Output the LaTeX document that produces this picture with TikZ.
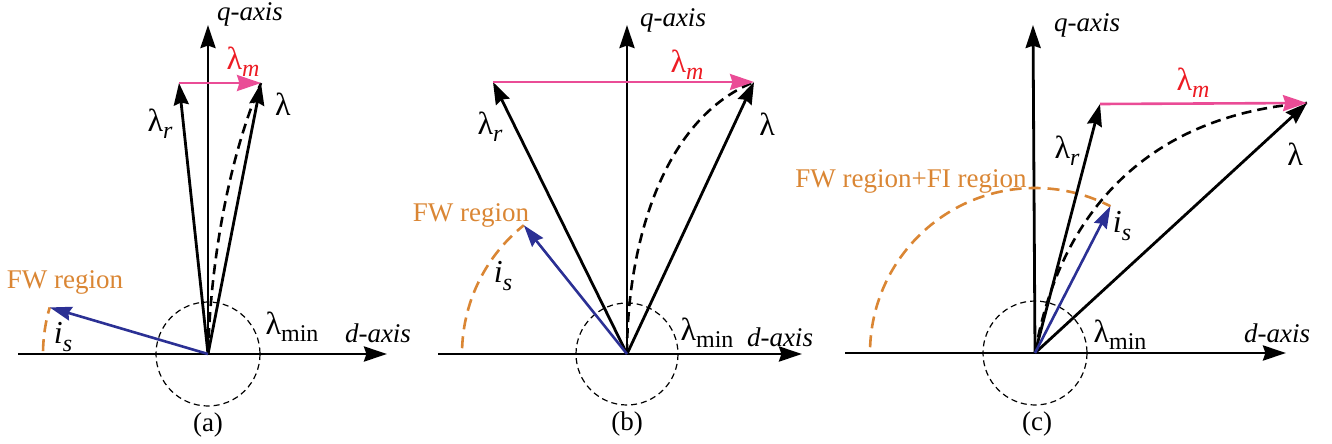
\documentclass[tikz,border=0pt]{standalone}
\usepackage{fontspec}
\setmainfont{Liberation Serif}
\newfontfamily\tnr{Liberation Serif}
\usetikzlibrary{arrows.meta,calc}
\definecolor{pinkm}{RGB}{234,76,150}
\definecolor{redm}{RGB}{237,28,36}
\definecolor{orng}{RGB}{218,134,52}
\definecolor{bluei}{RGB}{43,48,148}
\newcommand{\mysub}[1]{\raisebox{-0.5ex}{\fontsize{12}{12}\selectfont #1}}
\begin{document}
\begin{tikzpicture}[x=0.5pt,y=-0.5pt,
  axisarrow/.style={line width=1.4pt,-{Stealth[length=11.5pt,width=7.5pt,inset=1.2pt]}},
  vecarrow/.style={line width=1.4pt,-{Stealth[length=11pt,width=7.5pt,inset=1.2pt]}},
  pinkarrow/.style={pinkm,line width=1.3pt,-{Stealth[length=12pt,width=8pt,inset=1.2pt]}},
  bluearrow/.style={bluei,line width=1.3pt,-{Stealth[length=11pt,width=7pt,inset=1.2pt]}},
  dashcurve/.style={line width=1.3pt,dash pattern=on 5pt off 3pt},
  mincircle/.style={line width=0.6pt,dash pattern=on 3pt off 2pt},
  fwarc/.style={orng,line width=1.3pt,dash pattern=on 6pt off 3.5pt},
  lam/.style={font=\tnr\fontsize{16}{16}\selectfont,inner sep=0pt},
  axlabel/.style={font=\tnr\fontsize{13.5}{13.5}\selectfont\itshape,inner sep=0pt},
  fwlabel/.style={orng,font=\tnr\fontsize{13.5}{13.5}\selectfont,inner sep=0pt},
  caption/.style={font=\tnr\fontsize{13.5}{13.5}\selectfont,inner sep=0pt}]
\path[use as bounding box] (0,0) rectangle (1332,444);

% ---------------- (a) ----------------
\coordinate (Oa) at (208,354);
\coordinate (Da0) at (18,354);
\coordinate (Da1) at (387,354);
\coordinate (Qa1) at (208,25);
\coordinate (Ra) at (179,83);
\coordinate (La) at (261,83);
\coordinate (Ia) at ($(Oa)+(196.4:165)$);
\draw[mincircle] (Oa) circle[radius=52];
\draw[axisarrow] (Da0) -- (Da1);
\draw[axisarrow] (Oa) -- (Qa1);
\draw[fwarc] ($(Oa)+(181:165)$) arc[start angle=181,end angle=196.4,radius=165];
\draw[dashcurve] (Oa) .. controls (211,250) and (232,150) .. (La);
\draw[vecarrow] (Oa) -- (Ra);
\draw[vecarrow] (Oa) -- (La);
\draw[pinkarrow] (Ra) -- (La);
\draw[bluearrow] (Oa) -- (Ia);
\node[axlabel] (qa) at (250,14) {q-axis};
\node[axlabel] (da) at (378,333) {d-axis};
\node[lam,redm] (lma) at (243,62) {λ\mysub{\itshape m}};
\node[lam] (lra) at (160,124) {λ\mysub{\itshape r}};
\node[lam] (la) at (283,104) {λ};
\node[lam] (lmina) at (292,327) {λ\mysub{min}};
\node[lam] (isa) at (63,337) {\itshape i\mysub{s}};
\node[fwlabel] (fwa) at (65,282) {FW region};
\node[caption] (capa) at (208,425) {(a)};

% ---------------- (b) ----------------
\coordinate (Ob) at (627,354);
\coordinate (Db0) at (438,354);
\coordinate (Db1) at (802,354);
\coordinate (Qb1) at (627,25);
\coordinate (Rb) at (493,82);
\coordinate (Lb) at (754,82);
\coordinate (Ib) at ($(Ob)+(231.3:165)$);
\draw[mincircle] (Ob) circle[radius=51];
\draw[axisarrow] (Db0) -- (Db1);
\draw[axisarrow] (Ob) -- (Qb1);
\draw[fwarc] ($(Ob)+(182:165)$) arc[start angle=182,end angle=231.3,radius=165];
\draw[dashcurve] (Ob) .. controls (627,250) and (660,120) .. (Lb);
\draw[vecarrow] (Ob) -- (Rb);
\draw[vecarrow] (Ob) -- (Lb);
\draw[pinkarrow] (Rb) -- (Lb);
\draw[bluearrow] (Ob) -- (Ib);
\node[axlabel] (qb) at (673,20) {q-axis};
\node[axlabel] (db) at (780,337) {d-axis};
\node[lam,redm] (lmb) at (687,65) {λ\mysub{\itshape m}};
\node[lam] (lrb) at (490,127) {λ\mysub{\itshape r}};
\node[lam] (lb) at (767,124) {λ};
\node[lam] (lminb) at (707,333) {λ\mysub{min}};
\node[lam] (isb) at (503,276) {\itshape i\mysub{s}};
\node[fwlabel] (fwb) at (471,215) {FW region};
\node[caption] (capb) at (627,424) {(b)};

% ---------------- (c) ----------------
\coordinate (Oc) at (1035,353);
\coordinate (Dc0) at (845,353);
\coordinate (Dc1) at (1286,353);
\coordinate (Qc1) at (1033,25);
\coordinate (Rc) at (1100,104);
\coordinate (Lc) at (1307,103);
\coordinate (Ic) at ($(Oc)+(297.2:165)$);
\draw[mincircle] (Oc) circle[radius=52];
\draw[axisarrow] (Dc0) -- (Dc1);
\draw[axisarrow] (Oc) -- (Qc1);
\draw[fwarc] ($(Oc)+(182:165)$) arc[start angle=182,end angle=297.2,radius=165];
\draw[dashcurve] (Oc) .. controls (1060,210) and (1150,115) .. (Lc);
\draw[vecarrow] (Oc) -- (Rc);
\draw[vecarrow] (Oc) -- (Lc);
\draw[pinkarrow] (Rc) -- (Lc);
\draw[bluearrow] (Oc) -- (Ic);
\node[axlabel] (qc) at (1087,25) {q-axis};
\node[axlabel] (dc) at (1277,333) {d-axis};
\node[lam,redm] (lmc) at (1193,83) {λ\mysub{\itshape m}};
\node[lam] (lrc) at (1067,151) {λ\mysub{\itshape r}};
\node[lam] (lc) at (1295,154) {λ};
\node[lam] (lminc) at (1120,335) {λ\mysub{min}};
\node[lam] (isc) at (1122,226) {\itshape i\mysub{s}};
\node[fwlabel] (fwc) at (911,181) {FW region+FI region};
\node[caption] (capc) at (1037,424) {(c)};
\end{tikzpicture}
\end{document}
